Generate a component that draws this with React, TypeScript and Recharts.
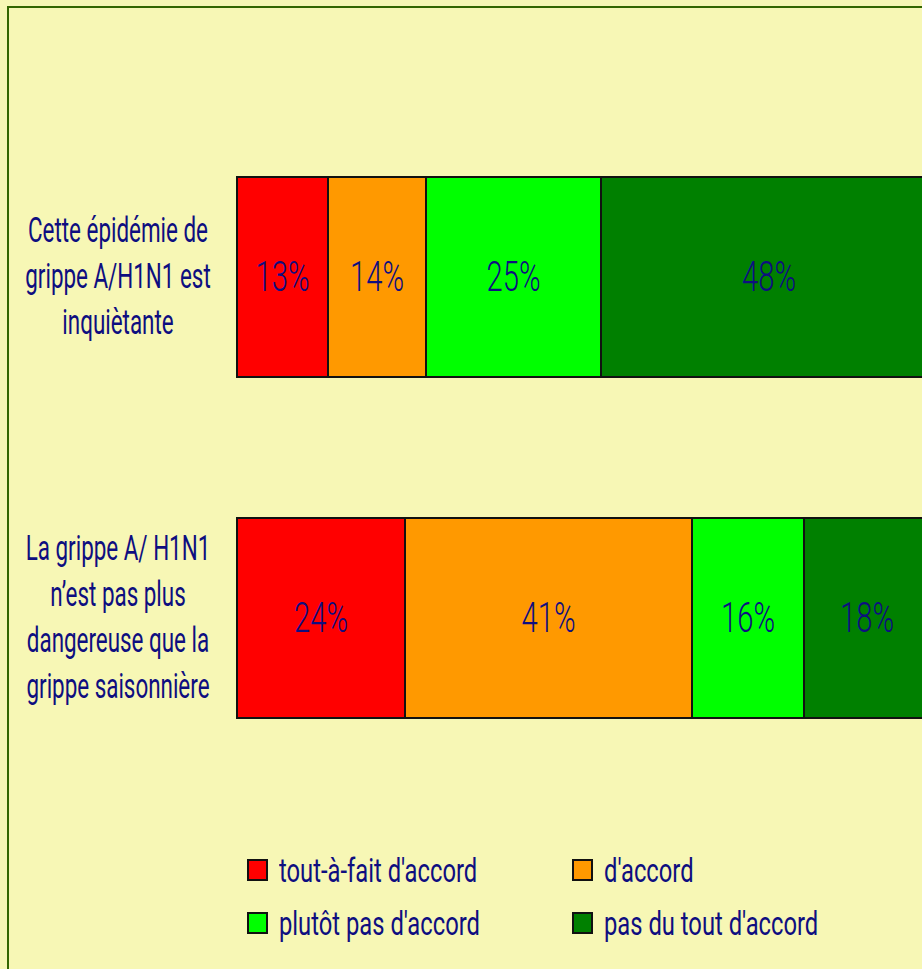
import React from "react";
import { Bar, BarChart, LabelList, XAxis, YAxis } from "recharts";

const categories = [
  "Cette épidémie de\ngrippe A/H1N1 est\ninquiètante",
  "La grippe A/ H1N1\nn’est pas plus\ndangereuse que la\ngrippe saisonnière",
];
const toutAFait = [13, 24];
const dAccord = [14, 41];
const plutotPas = [25, 16];
const pasDuTout = [48, 18];

const seriesKeys = ["toutAFait", "dAccord", "plutotPas", "pasDuTout"];
const seriesNames = [
  "tout-à-fait d'accord",
  "d'accord",
  "plutôt pas d'accord",
  "pas du tout d'accord",
];
const seriesColors = ["#ff0000", "#ff9900", "#00ff00", "#008000"];

const BG = "#f7f7b5";
const INK = "#0e0e80";
const FONT = "Roboto, 'Liberation Sans', sans-serif";

const data = categories.map((name, i) => ({
  name,
  toutAFait: toutAFait[i],
  dAccord: dAccord[i],
  plutotPas: plutotPas[i],
  pasDuTout: pasDuTout[i],
}));

function CategoryTick({ x, y, payload }: any) {
  const lines: string[] = String(payload.value).split("\n");
  const cx = x - 111;
  return (
    <g>
      {lines.map((line, i) => {
        const by = y + 11 + (i - (lines.length - 1) / 2) * 46;
        return (
          <text
            key={i}
            transform={`translate(${cx},${by}) scale(0.64,1)`}
            textAnchor="middle"
            fontFamily={FONT}
            fontSize={35}
            fill={INK}
          >
            {line}
          </text>
        );
      })}
    </g>
  );
}

function ValueLabel({ x, y, width, height, value }: any) {
  const cx = Number(x) + Number(width) / 2;
  const cy = Number(y) + Number(height) / 2 + 14;
  return (
    <text
      transform={`translate(${cx},${cy}) scale(0.68,1)`}
      textAnchor="middle"
      fontFamily={FONT}
      fontWeight={300}
      fontSize={43}
      fill={INK}
    >
      {`${value}%`}
    </text>
  );
}

function LegendBox() {
  return (
    <div
      style={{
        position: "absolute",
        left: 247,
        top: 851,
        display: "grid",
        gridTemplateColumns: "325px 325px",
        rowGap: 15,
        fontFamily: FONT,
      }}
    >
      {seriesNames.map((name, i) => (
        <div key={name} style={{ display: "flex", alignItems: "center", height: 38 }}>
          <span
            style={{
              width: 17,
              height: 18,
              background: seriesColors[i],
              border: "2px solid #111",
              marginRight: 11,
              flex: "none",
            }}
          />
          <span
            style={{
              display: "inline-block",
              fontSize: 33,
              color: INK,
              transform: "scaleX(0.72)",
              transformOrigin: "left center",
              whiteSpace: "nowrap",
            }}
          >
            {name}
          </span>
        </div>
      ))}
    </div>
  );
}

export default function App() {
  return (
    <div
      style={{
        position: "fixed",
        left: 0,
        top: 0,
        width: 922,
        height: 969,
        overflow: "hidden",
        background: BG,
      }}
    >
      <div
        style={{
          position: "absolute",
          left: 7,
          top: 6,
          width: 1000,
          height: 1000,
          border: "2px solid #336600",
          boxSizing: "border-box",
        }}
      />
      <div style={{ position: "absolute", left: 0, top: 0 }}>
        <BarChart
          width={937}
          height={969}
          layout="vertical"
          data={data}
          margin={{ top: 106, right: 0, bottom: 181, left: 0 }}
        >
          <XAxis type="number" domain={[0, 100]} hide />
          <YAxis
            type="category"
            dataKey="name"
            width={237}
            axisLine={false}
            tickLine={false}
            tick={<CategoryTick />}
            interval={0}
          />
          {seriesKeys.map((k, i) => (
            <Bar
              key={k}
              dataKey={k}
              name={seriesNames[i]}
              stackId="a"
              fill={seriesColors[i]}
              stroke="#111"
              strokeWidth={2}
              barSize={200}
              isAnimationActive={false}
            >
              <LabelList dataKey={k} content={<ValueLabel />} />
            </Bar>
          ))}
        </BarChart>
      </div>
      <LegendBox />
    </div>
  );
}
